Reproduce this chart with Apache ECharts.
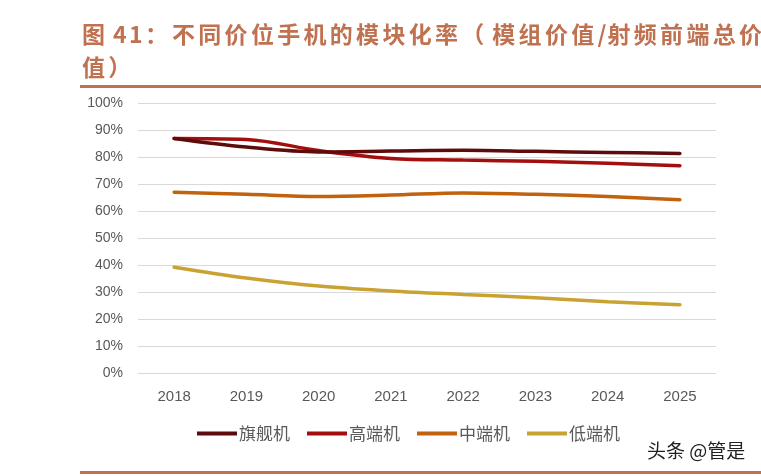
<!DOCTYPE html>
<html>
<head>
<meta charset="utf-8">
<script src="https://cdn.jsdelivr.net/npm/echarts@6/dist/echarts.min.js"></script>
<style>
html,body{margin:0;padding:0;background:#fff;}
#c{width:761px;height:476px;}
</style>
</head>
<body>
<div id="c"></div>
<script>
const categories = ['2018','2019','2020','2021','2022','2023','2024','2025'];
const seriesNames = ['旗舰机','高端机','中端机','低端机'];
const flagship = [87.0, 83.8, 82.0, 82.3, 82.6, 82.2, 81.8, 81.4];
const highEnd  = [87.0, 86.6, 82.5, 79.6, 79.0, 78.5, 77.8, 76.9];
const midEnd   = [67.1, 66.3, 65.5, 66.0, 66.8, 66.3, 65.5, 64.3];
const lowEnd   = [39.3, 35.3, 32.3, 30.5, 29.2, 28.0, 26.5, 25.4];
const titleLine1 = '图 41：不同价位手机的模块化率（模组价值/射频前端总价';
const titleLine2 = '值）';
const watermark = '头条 @管是';
const colors = ['#5E0B0B','#A30E0E','#C0620E','#C9A232'];
const titleColor = '#C0714F';

// rich-text token styles (character advance widths) for the title
function styleFor(ch){
  if (ch === ' ') return 'sp';
  if (/[0-9]/.test(ch)) return 'dig';
  if (ch === '：') return 'colon';
  if (ch === '（') return 'lp';
  if (ch === '/') return 'sl';
  return 'cjk';
}
function toRich(s){ return Array.from(s).map(ch => '{' + styleFor(ch) + '|' + ch + '}').join(''); }
const base = {fontFamily:'Noto Sans CJK SC', fontWeight:'bold', fontSize:23, color:titleColor, lineHeight:33};
const rich = {
  cjk:Object.assign({width:26.3}, base),
  sp:Object.assign({width:4.7}, base),
  dig:Object.assign({width:16}, base),
  colon:Object.assign({width:27}, base),
  lp:Object.assign({width:31}, base),
  sl:Object.assign({width:10}, base)
};

const chart = echarts.init(document.getElementById('c'), null, {renderer:'canvas'});
const allData = [flagship, highEnd, midEnd, lowEnd];
chart.setOption({
  animation:false,
  backgroundColor:'#fff',
  title:{
    text: toRich(titleLine1) + '\n' + toRich(titleLine2),
    left:82, top:18, padding:0,
    textStyle:Object.assign({rich:rich}, base)
  },
  graphic:[
    {type:'rect', shape:{x:80,y:85,width:681,height:3}, style:{fill:titleColor}},
    {type:'rect', shape:{x:80,y:471,width:681,height:3}, style:{fill:titleColor}},
    {type:'text', x:647, y:451, style:{text:watermark, font:'19px "Noto Sans CJK SC"', fill:'#222', verticalAlign:'middle'}}
  ],
  legend:{
    data:seriesNames,
    left:197, top:425, padding:0,
    icon:'rect', itemWidth:40, itemHeight:4, itemGap:17,
    textStyle:{fontFamily:'Noto Sans CJK SC', fontSize:17, color:'#595959', padding:[0,0,0,-3]}
  },
  grid:{left:138, right:45, top:103.3, bottom:102.7, containLabel:false},
  xAxis:{
    type:'category', data:categories, boundaryGap:true,
    axisLine:{show:false}, axisTick:{show:false},
    axisLabel:{fontFamily:'Liberation Sans', fontSize:15, color:'#595959', margin:16}
  },
  yAxis:{
    type:'value', min:0, max:100, interval:10,
    axisLine:{show:false}, axisTick:{show:false},
    splitLine:{lineStyle:{color:'#D9D9D9', width:1}},
    axisLabel:{fontFamily:'Liberation Sans', fontSize:14, color:'#595959', margin:15, formatter:v=>v+'%'}
  },
  series: seriesNames.map((n,i)=>({
    name:n, type:'line', data:allData[i], smooth:0.35,
    symbol:'none', lineStyle:{width:3.5, color:colors[i], cap:'round'},
    itemStyle:{color:colors[i]}, z: 10-i
  }))
});
</script>
</body>
</html>
